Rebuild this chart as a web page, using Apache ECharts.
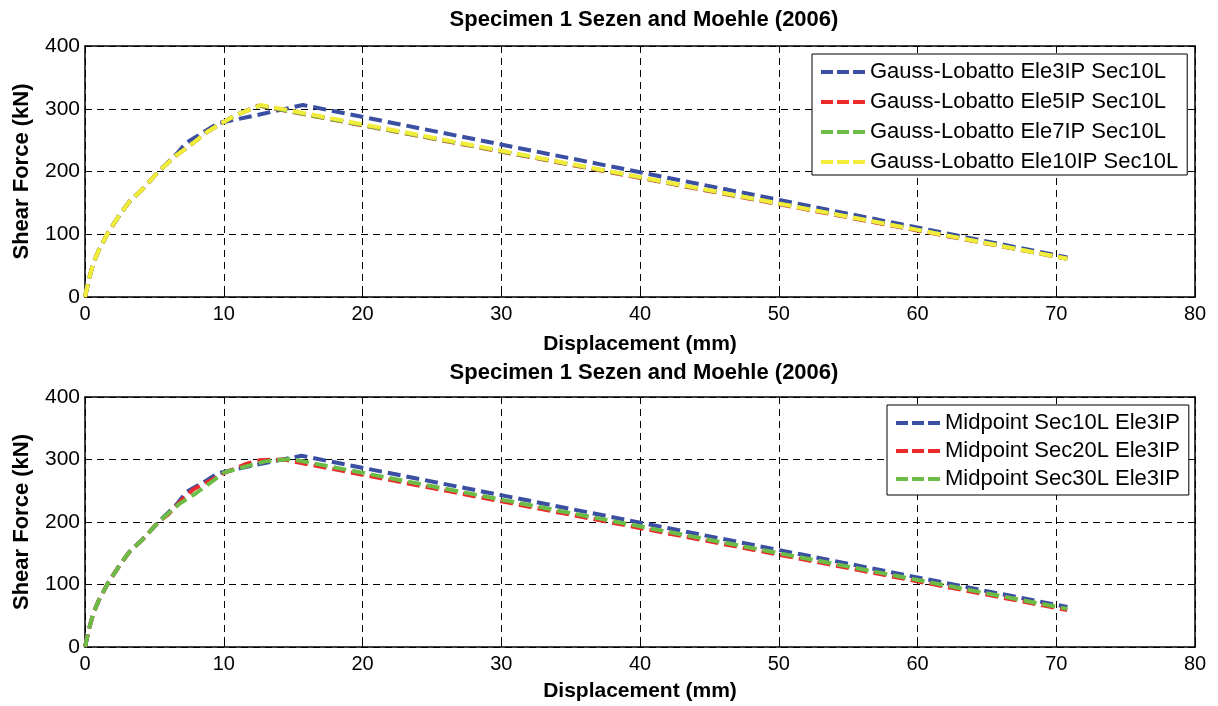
<!DOCTYPE html>
<html>
<head>
<meta charset="utf-8">
<script src="https://cdn.jsdelivr.net/npm/echarts@6/dist/echarts.min.js"></script>
<style>
html,body{margin:0;padding:0;background:#fff;}
#chart{width:1218px;height:706px;}
</style>
</head>
<body>
<div id="chart"></div>
<script>
// ---- Data ----
var titleText = 'Specimen 1 Sezen and Moehle (2006)';
var xTicks = [0, 10, 20, 30, 40, 50, 60, 70, 80];
var yTicks = [0, 100, 200, 300, 400];

// Top panel: Gauss-Lobatto
var glNames = ['Gauss-Lobatto Ele3IP Sec10L', 'Gauss-Lobatto Ele5IP Sec10L', 'Gauss-Lobatto Ele7IP Sec10L', 'Gauss-Lobatto Ele10IP Sec10L'];
var gl3_x  = [0, 0.3, 0.6, 1.0, 1.7, 2.5, 3.2, 4.1, 5.3, 6.6, 7.3, 8.5, 9.6, 12.0, 15.7, 70.8];
var gl3_y  = [0, 30, 54, 75, 104, 131, 152, 171, 200, 228, 246, 262, 277, 288, 306, 63];
var gl5_x  = [0, 0.3, 0.6, 1.0, 1.7, 2.5, 3.2, 4.1, 5.3, 6.6, 7.6, 8.8, 10.0, 10.9, 12.5, 60.0, 70.8];
var gl5_y  = [0, 30, 54, 75, 104, 131, 152, 171, 200, 226, 242, 263, 279, 290, 305, 106, 61];
var gl7_x  = [0, 0.3, 0.6, 1.0, 1.7, 2.5, 3.2, 4.1, 5.3, 6.6, 7.6, 8.8, 10.0, 10.9, 12.6, 60.0, 70.8];
var gl7_y  = [0, 30, 54, 75, 104, 131, 152, 171, 200, 226, 242, 263, 279, 290, 305, 107, 61];
var gl10_x = [0, 0.3, 0.6, 1.0, 1.7, 2.5, 3.2, 4.1, 5.3, 6.6, 7.6, 8.8, 10.0, 10.9, 12.7, 60.0, 70.8];
var gl10_y = [0, 30, 54, 75, 104, 131, 152, 171, 200, 226, 242, 263, 279, 290, 306, 107, 61];

// Bottom panel: Midpoint
var mpNames = ['Midpoint Sec10L Ele3IP', 'Midpoint Sec20L Ele3IP', 'Midpoint Sec30L Ele3IP'];
var mp10_x = [0, 0.3, 0.6, 1.0, 1.7, 2.5, 3.2, 4.1, 5.3, 6.6, 7.3, 8.5, 9.6, 12.0, 15.6, 70.8];
var mp10_y = [0, 30, 54, 75, 104, 131, 152, 171, 200, 228, 248, 263, 278, 290, 306, 64];
var mp20_x = [0, 0.3, 0.6, 1.0, 1.7, 2.5, 3.2, 4.1, 5.3, 6.0, 7.0, 7.8, 9.0, 10.0, 11.5, 12.6, 14.3, 70.8];
var mp20_y = [0, 30, 54, 75, 104, 131, 152, 171, 200, 212, 236, 252, 266, 278, 292, 299, 300, 59];
var mp30_x = [0, 0.3, 0.6, 1.0, 1.7, 2.5, 3.2, 4.1, 5.3, 6.8, 8.0, 9.0, 10.0, 11.6, 13.0, 14.8, 70.8];
var mp30_y = [0, 30, 54, 75, 104, 131, 152, 171, 200, 229, 246, 262, 279, 289, 297, 301, 61];

var colors = ['#3a4ea2', '#ec2a2c', '#6cbd45', '#f2ec3b'];

// ---- Build ----
function pairs(xs, ys) { return xs.map(function (x, i) { return [x, ys[i]]; }); }
var FONT = 'Liberation Sans, Arial, Helvetica, sans-serif';
var dashIcon = 'path://M0,0H12V4H0Z M16,0H28V4H16Z M32,0H44V4H32Z';

function lineSeries(name, data, color, idx) {
  return {
    type: 'line', name: name, data: data,
    xAxisIndex: idx, yAxisIndex: idx,
    symbol: 'none', showSymbol: false, smooth: false,
    lineStyle: { color: color, width: 4, type: [13, 6], cap: 'butt' },
    itemStyle: { color: color },
    emphasis: { disabled: true },
    animation: false
  };
}

function mainX(grid, gap) {
  return {
    type: 'value', gridIndex: grid, min: xTicks[0], max: xTicks[xTicks.length - 1], interval: 10,
    name: 'Displacement (mm)', nameLocation: 'middle', nameGap: gap,
    nameTextStyle: { fontFamily: FONT, fontSize: 21, fontWeight: 'bold', color: '#000' },
    axisLine: { show: true, onZero: false, lineStyle: { color: '#000', width: 1.5 } },
    axisTick: { show: true, inside: true, length: 7, lineStyle: { color: '#000', width: 1 } },
    axisLabel: { fontFamily: FONT, fontSize: 20, color: '#000', margin: 7 },
    splitLine: { show: true, lineStyle: { color: '#000', width: 1, type: [7, 5] } }
  };
}
function frameX(grid) {
  return {
    type: 'value', gridIndex: grid, position: 'top', min: 0, max: 80, interval: 10,
    axisLine: { show: true, onZero: false, lineStyle: { color: '#000', width: 1.5 } },
    axisTick: { show: true, inside: true, length: 7, lineStyle: { color: '#000', width: 1 } },
    axisLabel: { show: false }, splitLine: { show: false }
  };
}
function mainY(grid) {
  return {
    type: 'value', gridIndex: grid, min: yTicks[0], max: yTicks[yTicks.length - 1], interval: 100,
    name: 'Shear Force (kN)', nameLocation: 'middle', nameGap: 52,
    nameTextStyle: { fontFamily: FONT, fontSize: 22, fontWeight: 'bold', color: '#000' },
    axisLine: { show: true, onZero: false, lineStyle: { color: '#000', width: 1.5 } },
    axisTick: { show: true, inside: true, length: 7, lineStyle: { color: '#000', width: 1 } },
    axisLabel: { fontFamily: FONT, fontSize: 21, color: '#000', margin: 5 },
    splitLine: { show: true, lineStyle: { color: '#000', width: 1, type: [7, 5] } }
  };
}
function frameY(grid) {
  return {
    type: 'value', gridIndex: grid, position: 'right', min: 0, max: 400, interval: 100,
    axisLine: { show: true, onZero: false, lineStyle: { color: '#000', width: 1.5 } },
    axisTick: { show: true, inside: true, length: 7, lineStyle: { color: '#000', width: 1 } },
    axisLabel: { show: false }, splitLine: { show: false }
  };
}

var legendBase = {
  orient: 'vertical', icon: dashIcon, itemWidth: 44, itemHeight: 4, itemGap: 8,
  backgroundColor: '#fff', borderColor: '#000', borderWidth: 1, borderRadius: 0,
  selectedMode: false, itemStyle: { borderWidth: 0 }, lineStyle: { width: 0 },
  textStyle: { fontFamily: FONT, fontSize: 22, color: '#000', lineHeight: 22, padding: [0, 0, 0, 0] }
};

var option = {
  backgroundColor: '#fff',
  animation: false,
  title: [
    { text: titleText, left: 639, top: 4, textAlign: 'center',
      textStyle: { fontFamily: FONT, fontSize: 22, fontWeight: 'bold', color: '#000' } },
    { text: titleText, left: 639, top: 357, textAlign: 'center',
      textStyle: { fontFamily: FONT, fontSize: 22, fontWeight: 'bold', color: '#000' } }
  ],
  grid: [
    { left: 85, top: 46, width: 1110, height: 251, containLabel: false },
    { left: 85, top: 397, width: 1110, height: 250, containLabel: false }
  ],
  xAxis: [mainX(0, 37), mainX(1, 34), frameX(0), frameX(1)],
  yAxis: [mainY(0), mainY(1), frameY(0), frameY(1)],
  legend: [
    Object.assign({}, legendBase, { data: glNames, left: 812, top: 54, itemGap: 8, padding: [7, 9, 2, 9] }),
    Object.assign({}, legendBase, { data: mpNames, left: 887, top: 405, itemGap: 6, padding: [7, 9, 5, 9] })
  ],
  series: [
    lineSeries(glNames[0], pairs(gl3_x, gl3_y), colors[0], 0),
    lineSeries(glNames[1], pairs(gl5_x, gl5_y), colors[1], 0),
    lineSeries(glNames[2], pairs(gl7_x, gl7_y), colors[2], 0),
    lineSeries(glNames[3], pairs(gl10_x, gl10_y), colors[3], 0),
    lineSeries(mpNames[0], pairs(mp10_x, mp10_y), colors[0], 1),
    lineSeries(mpNames[1], pairs(mp20_x, mp20_y), colors[1], 1),
    lineSeries(mpNames[2], pairs(mp30_x, mp30_y), colors[2], 1)
  ]
};

var chart = echarts.init(document.getElementById('chart'), null, { renderer: 'canvas' });
chart.setOption(option);
</script>
</body>
</html>
